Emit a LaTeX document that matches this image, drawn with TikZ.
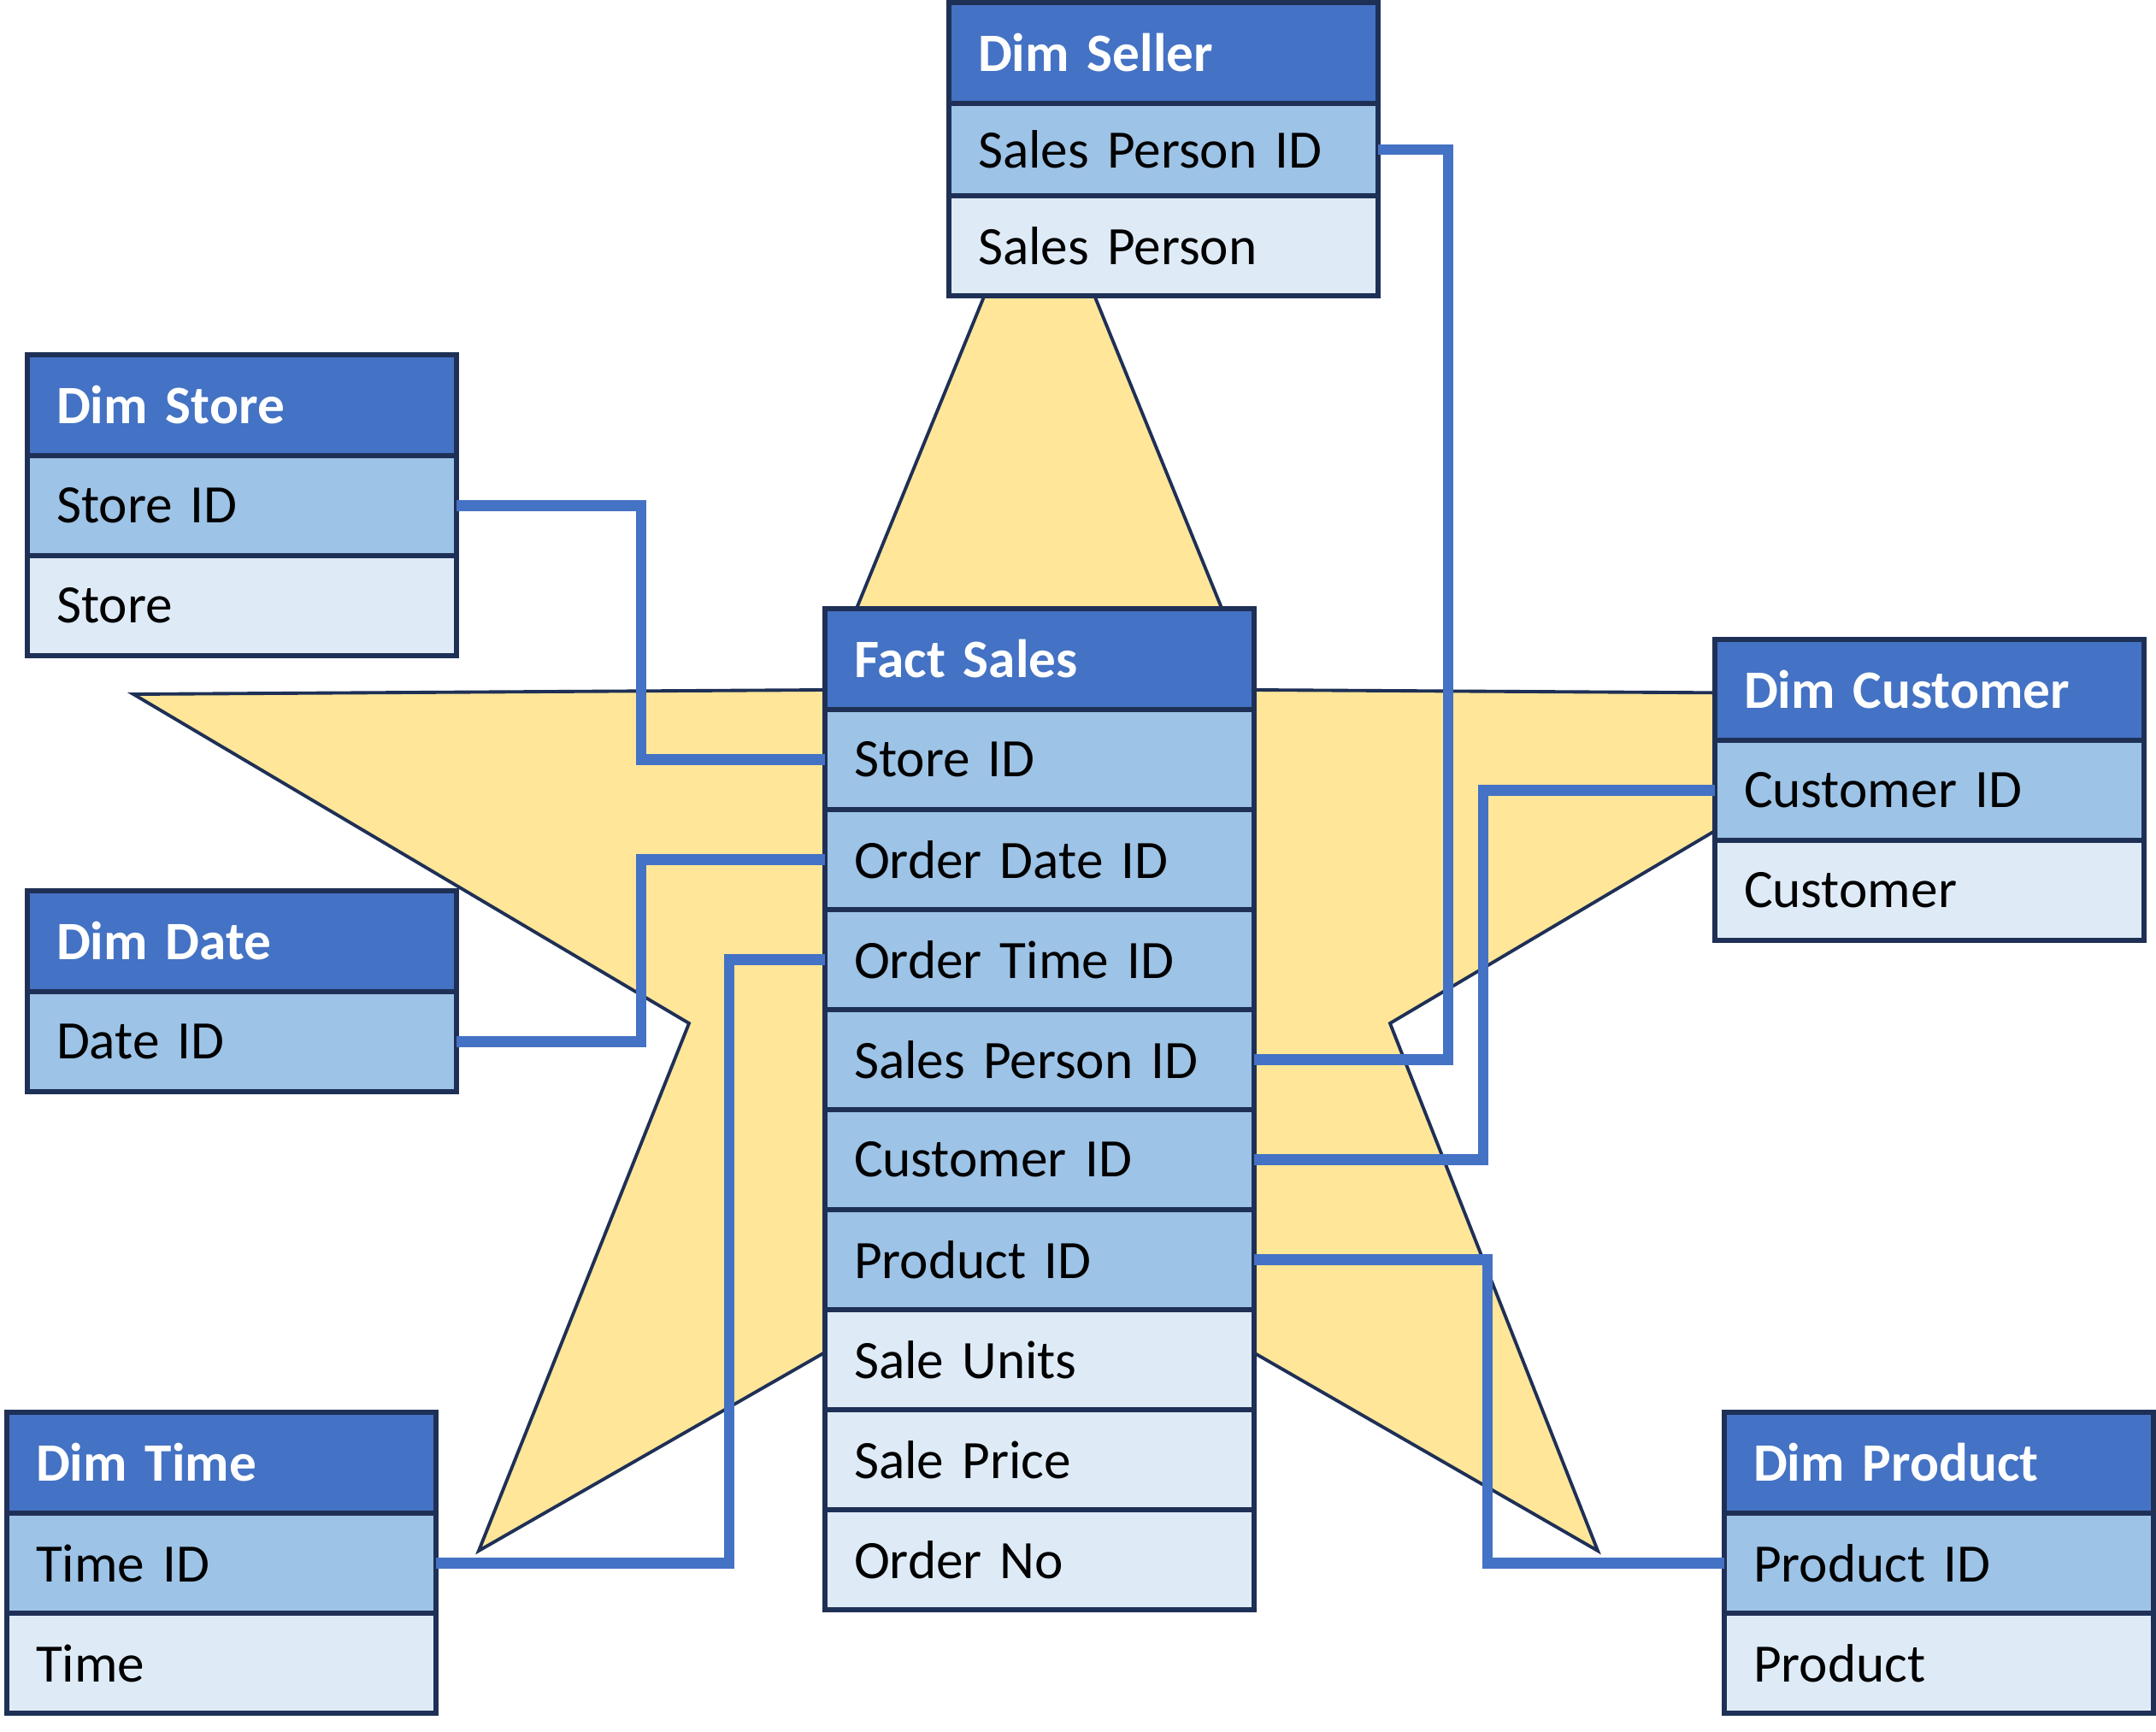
\documentclass[tikz,border=0pt]{standalone}
\usepackage{fontspec}
\setmainfont{Carlito}
\usetikzlibrary{positioning}
\definecolor{headblue}{HTML}{4472C4}
\definecolor{keyblue}{HTML}{9DC3E6}
\definecolor{attrblue}{HTML}{DEEBF7}
\definecolor{edgenavy}{HTML}{1F3056}
\definecolor{staryellow}{HTML}{FFE699}
\newcommand\tabfont{\fontsize{18}{22}\selectfont\fontdimen2\font=0.19em\relax}
\newcommand\headfont{\fontsize{18}{22}\bfseries\selectfont\fontdimen2\font=0.19em\relax}
\begin{document}
\begin{tikzpicture}[
    every node/.style={draw=edgenavy,line width=1.8pt,outer sep=0pt,inner xsep=0.34cm,
      text width=4.34cm,align=left,font=\tabfont},
    head/.style={fill=headblue,text=white,minimum height=1.18cm,anchor=north west,font=\headfont},
    keyrow/.style={fill=keyblue,minimum height=1.17cm},
    attrrow/.style={fill=attrblue,minimum height=1.17cm},
    link/.style={draw=headblue,line width=3.6pt}]
    \useasboundingbox (0,0) rectangle (25.22,-20.26);
    % star behind the tables
    \draw[edgenavy,fill=staryellow,line width=1.1pt] (12.16,-1.88) -- (14.68,-8.07) -- (22.76,-8.12) -- (16.26,-11.97)
        -- (18.69,-18.14) -- (12.16,-14.38) -- (5.60,-18.14) -- (8.06,-11.97) -- (1.56,-8.12) -- (9.63,-8.07) -- cycle;
    % fact table
    \node[head] (fact) at (9.65,-7.12) {Fact Sales};
    \node[keyrow,below=0pt of fact] (fact1) {Store ID};
    \node[keyrow,below=0pt of fact1] (fact2) {Order Date ID};
    \node[keyrow,below=0pt of fact2] (fact3) {Order Time ID};
    \node[keyrow,below=0pt of fact3] (fact4) {Sales Person ID};
    \node[keyrow,below=0pt of fact4] (fact5) {Customer ID};
    \node[keyrow,below=0pt of fact5] (fact6) {Product ID};
    \node[attrrow,below=0pt of fact6] (fact7) {Sale Units};
    \node[attrrow,below=0pt of fact7] (fact8) {Sale Price};
    \node[attrrow,below=0pt of fact8] (fact9) {Order No};
    % dimension tables
    \node[head] (seller) at (11.10,-0.03) {Dim Seller};
    \node[keyrow,below=0pt of seller,minimum height=1.08cm] (seller1) {Sales Person ID};
    \node[attrrow,below=0pt of seller1] (seller2) {Sales Person};
    \node[head] (store) at (0.32,-4.15) {Dim Store};
    \node[keyrow,below=0pt of store] (store1) {Store ID};
    \node[attrrow,below=0pt of store1] (store2) {Store};
    \node[head] (date) at (0.32,-10.42) {Dim Date};
    \node[keyrow,below=0pt of date] (date1) {Date ID};
    \node[head] (time) at (0.08,-16.52) {Dim Time};
    \node[keyrow,below=0pt of time] (time1) {Time ID};
    \node[attrrow,below=0pt of time1] (time2) {Time};
    \node[head] (cust) at (20.06,-7.48) {Dim Customer};
    \node[keyrow,below=0pt of cust] (cust1) {Customer ID};
    \node[attrrow,below=0pt of cust1] (cust2) {Customer};
    \node[head] (prod) at (20.17,-16.52) {Dim Product};
    \node[keyrow,below=0pt of prod] (prod1) {Product ID};
    \node[attrrow,below=0pt of prod1] (prod2) {Product};
    % key links
    \path[link] (store1.east) -- ++(2.16,0) |- (fact1.west);
    \path[link] (date1.east) -- ++(2.16,0) |- (fact2.west);
    \path[link] (time1.east) -- ++(3.43,0) |- (fact3.west);
    \path[link] (seller1.east) -- ++(0.82,0) |- (fact4.east);
    \path[link] (cust1.west) -- ++(-2.71,0) |- (fact5.east);
    \path[link] (prod1.west) -- ++(-2.77,0) |- (fact6.east);
\end{tikzpicture}
\end{document}
